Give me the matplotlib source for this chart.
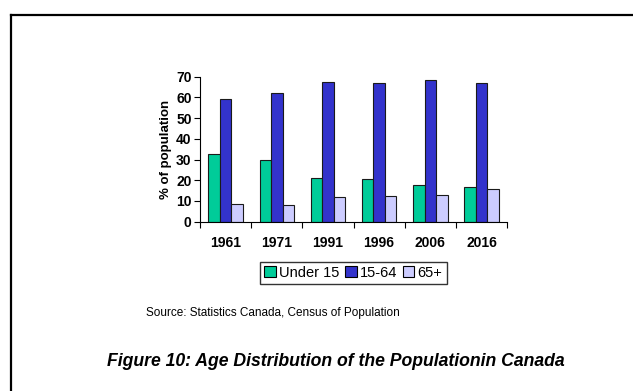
import numpy as np
import matplotlib
matplotlib.use("Agg")
import matplotlib.pyplot as plt
from matplotlib.lines import Line2D
from matplotlib.patches import Patch

plt.rcParams['font.family'] = ['Liberation Sans', 'DejaVu Sans']

years = ["1961", "1971", "1991", "1996", "2006", "2016"]
under_15 = [32.6, 29.7, 21.1, 20.5, 17.9, 16.8]
age_15_64 = [59.0, 62.2, 67.6, 67.1, 68.2, 67.1]
age_65_plus = [8.6, 8.2, 11.7, 12.6, 13.1, 16.0]
series_names = ["Under 15", "15-64", "65+"]
series_colors = ["#00CC99", "#3333CC", "#CCCCFF"]
y_ticks = [0, 10, 20, 30, 40, 50, 60, 70]

fig = plt.figure(figsize=(6.33, 3.91), dpi=100)
ax = fig.add_axes([0.316, 0.433, 0.485, 0.371])

x = np.arange(len(years))
width = 0.225
for i, (vals, name, col) in enumerate(zip([under_15, age_15_64, age_65_plus],
                                          series_names, series_colors)):
    ax.bar(x + (i - 1) * width, vals, width, color=col, edgecolor="#1a1a1a",
           linewidth=0.8, label=name)

ax.set_xlim(-0.5, len(years) - 0.5)
ax.set_ylim(0, 70)
ax.set_yticks(y_ticks)
ax.set_yticklabels([str(t) for t in y_ticks], fontsize=10, fontweight="bold")
ax.set_xticks(x)
ax.set_xticklabels(years, fontsize=10, fontweight="bold")
ax.tick_params(axis="x", length=0, pad=10)
ax.set_xticks(np.arange(len(years) + 1) - 0.5, minor=True)
ax.tick_params(axis="x", which="minor", length=4, width=0.8, direction="out")
ax.tick_params(axis="y", length=4, width=0.8, direction="out", pad=2)
for s in ["top", "right"]:
    ax.spines[s].set_visible(False)
for s in ["left", "bottom"]:
    ax.spines[s].set_linewidth(0.8)
ax.set_ylabel("% of population", fontsize=9.5, fontweight="bold", labelpad=3)

handles = [Patch(facecolor=c, edgecolor="black", linewidth=0.8, label=n)
           for n, c in zip(series_names, series_colors)]
fig.legend(handles=handles, loc="center", bbox_to_anchor=(0.558, 0.302),
           ncol=3, fontsize=10.5, frameon=True, fancybox=False, edgecolor="black",
           handlelength=0.8, handleheight=0.8, handletextpad=0.2,
           columnspacing=0.4, borderpad=0.3, borderaxespad=0)

fig.text(146 / 633, 1 - 313 / 391, "Source: Statistics Canada, Census of Population",
         fontsize=8.5, ha="left", va="center")
fig.text(107 / 633, 1 - 362 / 391,
         "Figure 10: Age Distribution of the Populationin Canada",
         fontsize=12.7, fontweight="bold", fontstyle="italic", ha="left", va="center")

# frame lines along the top and left edges
fig.add_artist(Line2D([10.5 / 633, 1.0], [1 - 14.5 / 391, 1 - 14.5 / 391],
                      transform=fig.transFigure, color="black", linewidth=1.6))
fig.add_artist(Line2D([10.5 / 633, 10.5 / 633], [1 - 14.5 / 391, 0.0],
                      transform=fig.transFigure, color="black", linewidth=1.6))

fig.savefig("out.png", dpi=100)
